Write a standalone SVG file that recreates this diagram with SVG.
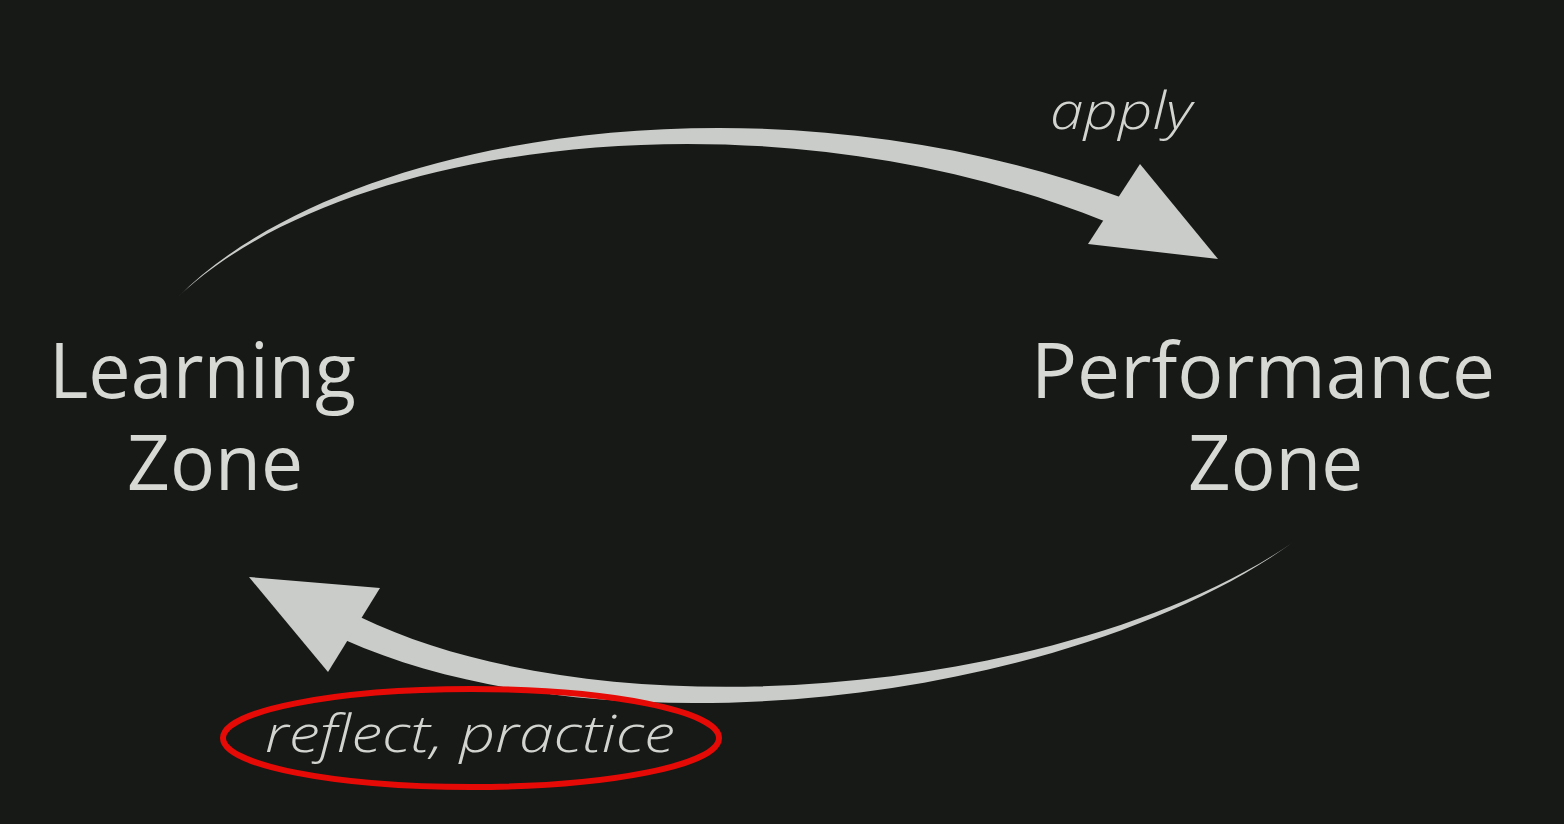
<svg xmlns="http://www.w3.org/2000/svg" width="1564" height="824" viewBox="0 0 1564 824">
<style>
.zone{font-family:"Open Sans","Liberation Sans",sans-serif;font-size:76px;fill:#d7d9d5}
.verb{font-family:"Open Sans","Liberation Sans",sans-serif;font-size:52px;font-style:italic;font-weight:300;fill:#d2d4d0}
.arrow{fill:#c9ccc9}
</style>
<rect width="1564" height="824" fill="#171917"/>
<g id="connectors">
  <g id="apply-arrow">
    <path class="arrow" d="M178,297 C340,134 760,66 1120,197 L1104,221 C760,84 340,142 178,297 Z"/>
    <polygon class="arrow" points="1140,164 1218,259 1088,244"/>
  </g>
  <g id="reflect-arrow">
    <path class="arrow" d="M1292,543 C1070,694 610,738 360,617 L345,640 C610,758 1070,702 1292,543 Z"/>
    <polygon class="arrow" points="249,577 380,588 328,672"/>
  </g>
</g>
<g id="learning-zone">
  <text class="zone" x="49" y="398" textLength="307" lengthAdjust="spacingAndGlyphs">Learning</text>
  <text class="zone" x="127" y="490" textLength="176" lengthAdjust="spacingAndGlyphs">Zone</text>
</g>
<g id="performance-zone">
  <text class="zone" x="1031" y="398" textLength="464" lengthAdjust="spacingAndGlyphs">Performance</text>
  <text class="zone" x="1188" y="490" textLength="175" lengthAdjust="spacingAndGlyphs">Zone</text>
</g>
<g id="apply-label">
  <text class="verb" x="1050" y="129" textLength="142" lengthAdjust="spacingAndGlyphs">apply</text>
</g>
<g id="reflect-label">
  <ellipse cx="471" cy="738" rx="248" ry="49" fill="none" stroke="#e60a06" stroke-width="6"/>
  <text class="verb" x="265" y="752" textLength="410" lengthAdjust="spacingAndGlyphs">reflect, practice</text>
</g>
</svg>
